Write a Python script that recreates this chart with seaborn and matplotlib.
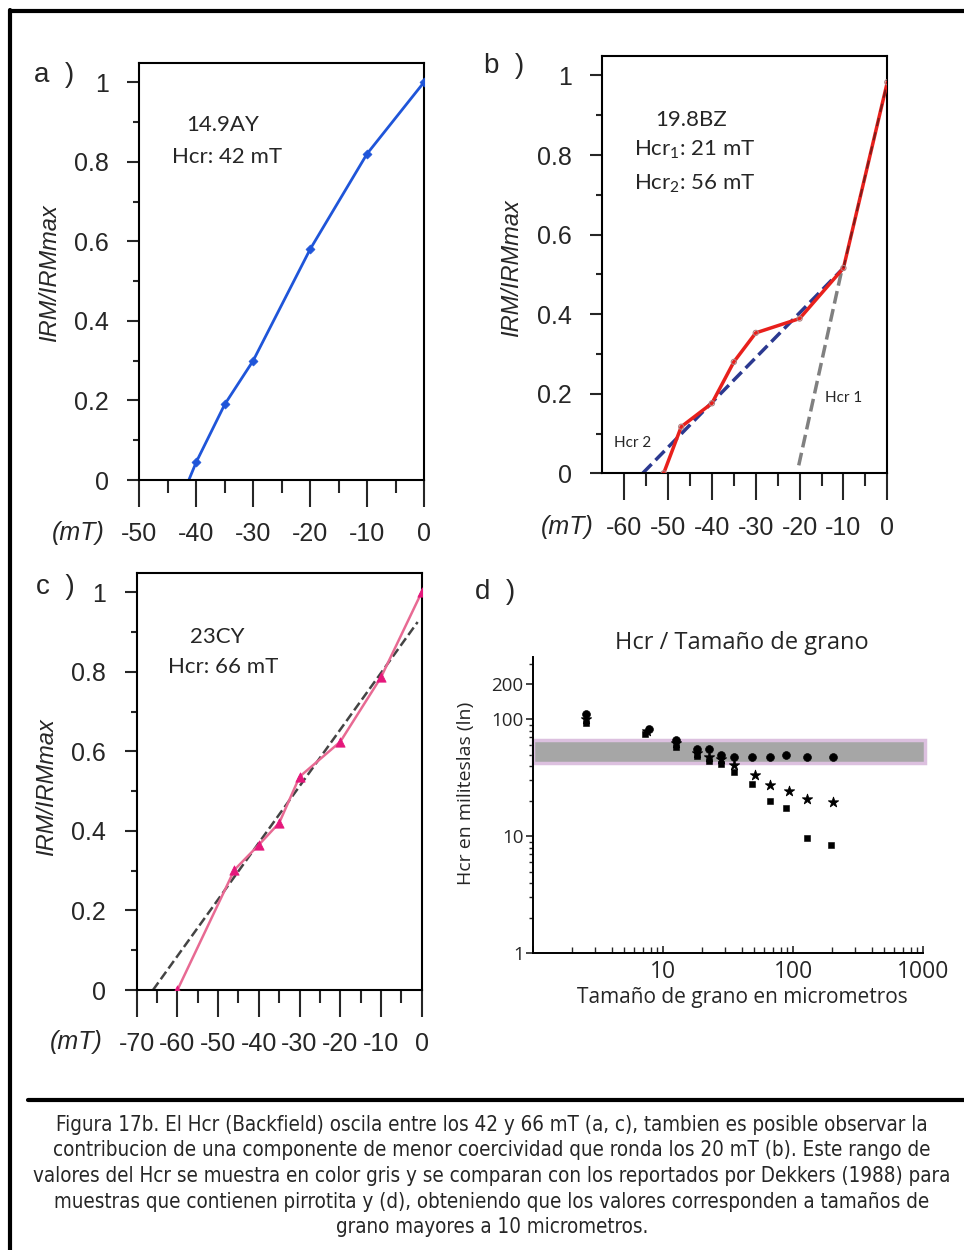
import numpy as np
import matplotlib
matplotlib.use('Agg')
import matplotlib.pyplot as plt
import seaborn as sns
from matplotlib.lines import Line2D
from matplotlib.ticker import MultipleLocator, FixedLocator, NullFormatter, LogLocator

# datos leídos de la figura
# a) 14.9AY
a_x = [-40, -35, -30, -20, -10, 0]
a_y = [0.045, 0.19, 0.30, 0.58, 0.82, 1.0]
a_inicio = (-41.3, 0.0)

# b) 19.8BZ
b_x = [-51, -47, -40, -35, -30, -20, -10, 0]
b_y = [0.0, 0.117, 0.176, 0.28, 0.353, 0.389, 0.516, 0.983]
b_hcr2_x = [-55.8, -10]
b_hcr2_y = [0.0, 0.516]
b_hcr1_x = [-20.2, -10.4]
b_hcr1_y = [0.02, 0.51]
b_alto_x = [-10, 0]
b_alto_y = [0.516, 0.983]

# c) 23CY
c_x = [-60, -46, -40, -35, -30, -20, -10, 0]
c_y = [0.0, 0.302, 0.365, 0.42, 0.536, 0.624, 0.786, 1.0]
c_ajuste_x = [-66, -1]
c_ajuste_y = [0.0, 0.925]

# d) Hcr / tamaño de grano (Dekkers 1988)
d_circ_x = [2.54, 7.7, 12.5, 18.1, 22.5, 27.6, 35, 47.8, 66, 88, 127, 201]
d_circ_y = [111, 83, 66.5, 55.4, 55.4, 50, 47.6, 47.6, 47.6, 50, 47.6, 47.6]
d_star_x = [2.54, 7.5, 12.5, 18.1, 22.5, 27.6, 35, 50.8, 66, 93, 127, 201]
d_star_y = [100, 79, 63, 51.5, 48, 45.8, 40.6, 33.4, 27.5, 24.5, 20.9, 19.6]
d_sq_x = [2.54, 7.2, 12.5, 18.1, 22.5, 27.6, 35, 47.8, 66, 88, 127, 195]
d_sq_y = [93, 74.5, 58, 48.5, 44, 41.6, 35.2, 27.8, 20, 17.4, 9.7, 8.5]
banda = (42, 66)

caption = [
    "Figura 17b. El Hcr (Backfield) oscila entre los 42 y 66 mT (a, c), tambien es posible observar la",
    "contribucion de una componente de menor coercividad que ronda los 20 mT (b). Este rango de",
    "valores del Hcr se muestra en color gris y se comparan con los reportados por Dekkers (1988) para",
    "muestras que contienen pirrotita y (d), obteniendo que los valores corresponden a tamaños de",
    "grano mayores a 10 micrometros.",
]

sns.set_style('ticks')
plt.rcParams['font.family'] = ['Liberation Sans', 'DejaVu Sans']
plt.rcParams['mathtext.default'] = 'regular'

W, H = 964, 1250
fig = plt.figure(figsize=(W / 100, H / 100), dpi=100)


def rect(l, t, r, b):
    return [l / W, 1 - b / H, (r - l) / W, (b - t) / H]


def fx(x):
    return x / W


def fy(y):
    return 1 - y / H


def estilo_irm(ax, xmin, majors, minors):
    ax.set_xlim(xmin, 0)
    ax.set_ylim(0, 1.049)
    for s in ax.spines.values():
        s.set_linewidth(1.5)
        s.set_color('black')
    ax.xaxis.set_major_locator(FixedLocator(majors))
    ax.xaxis.set_minor_locator(FixedLocator(minors))
    ax.set_xticklabels([str(m) for m in majors])
    ax.yaxis.set_major_locator(FixedLocator([0, 0.2, 0.4, 0.6, 0.8, 1.0]))
    ax.yaxis.set_minor_locator(FixedLocator([0.1, 0.3, 0.5, 0.7, 0.9]))
    ax.set_yticklabels(['0', '0.2', '0.4', '0.6', '0.8', '1'])
    ax.tick_params(axis='y', which='major', direction='out', length=9, width=1.5, pad=13, labelsize=18)
    ax.tick_params(axis='y', which='minor', direction='out', length=4.5, width=1.5)
    ax.tick_params(axis='x', which='major', direction='out', length=19.5, width=1.5, pad=11, labelsize=18)
    ax.tick_params(axis='x', which='minor', direction='out', length=9.5, width=1.5)
    ax.set_xlabel('')
    ax.set_ylabel('')


# ---------- a ----------
ax1 = fig.add_axes(rect(139.3, 62.7, 424, 480))
sns.lineplot(x=[a_inicio[0]] + a_x, y=[a_inicio[1]] + a_y, ax=ax1, color='#1f55d9', lw=2, sort=False)
sns.scatterplot(x=a_x, y=a_y, ax=ax1, marker='D', s=22, color='#1f55d9', edgecolor='#1f55d9', zorder=3)
estilo_irm(ax1, -50, [-50, -40, -30, -20, -10, 0], [-45, -35, -25, -15, -5])

# ---------- b ----------
ax2 = fig.add_axes(rect(602.3, 56, 887.3, 473.3))
sns.lineplot(x=b_hcr2_x, y=b_hcr2_y, ax=ax2, color='#2b3990', lw=2.5, dashes=(3, 2.5), linestyle='--')
sns.lineplot(x=b_hcr1_x, y=b_hcr1_y, ax=ax2, color='#808080', lw=2.5, dashes=(3, 2.5), linestyle='--')
sns.lineplot(x=b_x, y=b_y, ax=ax2, color='#e8201c', lw=2.5, sort=False, zorder=3)
ax2.plot(b_alto_x, b_alto_y, color='#3a1a1a', lw=1.5, ls=(0, (4, 3)), alpha=0.6, zorder=4)
sns.scatterplot(x=b_x, y=b_y, ax=ax2, marker='o', s=14, facecolor='none', edgecolor='#b08080', linewidth=0.8, zorder=5)
estilo_irm(ax2, -65, [-60, -50, -40, -30, -20, -10, 0], [-55, -45, -35, -25, -15, -5])

# ---------- c ----------
ax3 = fig.add_axes(rect(136.7, 572.7, 421.7, 990))
sns.lineplot(x=c_ajuste_x, y=c_ajuste_y, ax=ax3, color='#444444', lw=1.8, linestyle='--', dashes=(5, 3.5))
sns.lineplot(x=c_x, y=c_y, ax=ax3, color='#e86a93', lw=1.8, sort=False, zorder=3)
sns.scatterplot(x=c_x, y=c_y, ax=ax3, marker='^', s=45, color='#e5177b', edgecolor='#e5177b', zorder=4)
estilo_irm(ax3, -70, [-70, -60, -50, -40, -30, -20, -10, 0], [-65, -55, -45, -35, -25, -15, -5])

# ---------- d ----------
ax4 = fig.add_axes(rect(533.3, 656.7, 923.3, 953.3))
ax4.set_xscale('log')
ax4.set_yscale('log')
ax4.axhspan(banda[0], banda[1], xmin=0, xmax=1.005, facecolor='#a6a6a6', edgecolor='#dcc0df', lw=2.5, clip_on=False)
sns.scatterplot(x=d_circ_x, y=d_circ_y, ax=ax4, marker='o', s=32, color='black', edgecolor='black', zorder=3)
sns.scatterplot(x=d_star_x, y=d_star_y, ax=ax4, marker='*', s=60, color='black', edgecolor='black', zorder=3)
sns.scatterplot(x=d_sq_x, y=d_sq_y, ax=ax4, marker='s', s=24, color='black', edgecolor='black', zorder=3)
ax4.set_xlim(1, 1000)
ax4.set_ylim(1, 343)
sns.despine(ax=ax4)
for s in ['left', 'bottom']:
    ax4.spines[s].set_linewidth(1.4)
    ax4.spines[s].set_color('black')
ax4.xaxis.set_major_locator(FixedLocator([1, 10, 100, 1000]))
ax4.set_xticklabels(['', '10', '100', '1000'])
ax4.xaxis.set_minor_locator(LogLocator(base=10, subs=np.arange(2, 10), numticks=20))
ax4.xaxis.set_minor_formatter(NullFormatter())
ax4.yaxis.set_major_locator(FixedLocator([1, 10, 100, 200]))
ax4.set_yticklabels(['1', '10', '100', '200'])
ax4.yaxis.set_minor_locator(LogLocator(base=10, subs=np.arange(2, 10), numticks=20))
ax4.yaxis.set_minor_formatter(NullFormatter())
ax4.tick_params(axis='x', which='major', direction='in', length=5, width=1.2, pad=5, labelsize=16.5)
ax4.tick_params(axis='x', which='minor', direction='in', length=4, width=1)
ax4.tick_params(axis='y', which='major', direction='out', length=5, width=1.2, pad=2, labelsize=13.5)
ax4.tick_params(axis='y', which='minor', direction='out', length=3, width=1)
for lab in ax4.get_xticklabels() + ax4.get_yticklabels():
    lab.set_family(['Open Sans', 'DejaVu Sans'])
ax4.set_xlabel('')
ax4.set_ylabel('')

# ---------- textos ----------
sans = ['Liberation Sans', 'DejaVu Sans']
lato = ['Lato', 'DejaVu Sans']
myr = ['Open Sans', 'DejaVu Sans']

for (x, y, t) in [(54, 75, 'a  )'), (504, 66, 'b  )'), (55, 587, 'c  )'), (495, 592, 'd  )')]:
    fig.text(fx(x), fy(y), t, fontsize=20, family=sans, ha='center', va='center')

for (x, y) in [(50, 273), (512, 268), (47, 787)]:
    fig.text(fx(x), fy(y), 'IRM/IRMmax', fontsize=17, family=sans, style='italic',
             rotation=90, ha='center', va='center')

for (x, y) in [(78, 533), (567, 527), (76, 1042)]:
    fig.text(fx(x), fy(y), '(mT)', fontsize=18, family=sans, style='italic', ha='center', va='center')

fig.text(fx(223), fy(125), '14.9AY', fontsize=16, family=lato, ha='center', va='center')
fig.text(fx(227), fy(157), 'Hcr: 42 mT', fontsize=16, family=lato, ha='center', va='center')
fig.text(fx(691), fy(120), '19.8BZ', fontsize=16, family=lato, ha='center', va='center')
fig.text(fx(634), fy(150), 'Hcr$\\mathregular{_1}$: 21 mT', fontsize=16, family=lato, ha='left', va='center')
fig.text(fx(634), fy(184), 'Hcr$\\mathregular{_2}$: 56 mT', fontsize=16, family=lato, ha='left', va='center')
fig.text(fx(844), fy(398), 'Hcr 1', fontsize=11, family=lato, ha='center', va='center')
fig.text(fx(633), fy(443), 'Hcr 2', fontsize=11, family=lato, ha='center', va='center')
fig.text(fx(217), fy(637), '23CY', fontsize=16, family=lato, ha='center', va='center')
fig.text(fx(223), fy(667), 'Hcr: 66 mT', fontsize=16, family=lato, ha='center', va='center')

fig.text(fx(742), fy(643), 'Hcr / Tamaño de grano', fontsize=17, family=myr, ha='center', va='center')
fig.text(fx(742), fy(997), 'Tamaño de grano en micrometros', fontsize=15, family=myr, ha='center', va='center')
fig.text(fx(466), fy(793), 'Hcr en militeslas (ln)', fontsize=14, family=myr, rotation=90, ha='center', va='center')

for i, linea in enumerate(caption):
    fig.text(fx(492), fy(1125 + i * 25.5), linea, fontsize=14.8, family=['Liberation Sans Narrow', 'DejaVu Sans'],
             stretch='condensed', ha='center', va='center')

# marco
fig.add_artist(Line2D([fx(10), fx(10)], [fy(10), fy(1260)], color='black', lw=3, transform=fig.transFigure))
fig.add_artist(Line2D([fx(10), fx(970)], [fy(11), fy(11)], color='black', lw=3, transform=fig.transFigure))
fig.add_artist(Line2D([fx(28), fx(970)], [fy(1100), fy(1100)], color='black', lw=3, transform=fig.transFigure))

fig.savefig('out.png', dpi=100)
